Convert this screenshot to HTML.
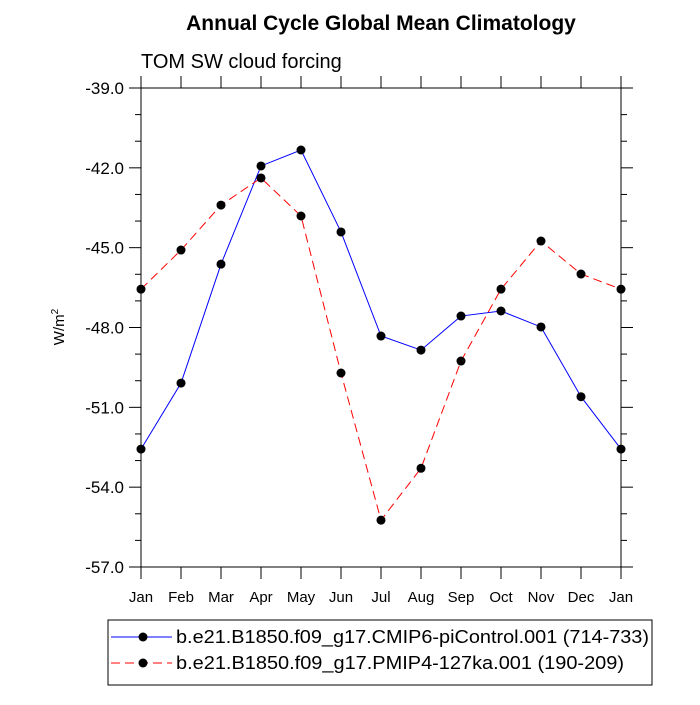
<!DOCTYPE html>
<html><head><meta charset="utf-8"><style>
body{margin:0;background:#fff}
svg text{font-family:"Liberation Sans",sans-serif;fill:#000}
</style></head><body>
<svg id="c" width="700" height="700">
<text x="381" y="30" font-size="21" font-weight="bold" text-anchor="middle">Annual Cycle Global Mean Climatology</text>
<text x="141" y="68" font-size="20">TOM SW cloud forcing</text>
<text transform="translate(64,327) rotate(-90)" font-size="15" text-anchor="middle">W/m<tspan dy="-6" font-size="10">2</tspan></text>
<g id="axes"></g>
<g id="series"></g>
<rect x="108" y="620" width="544" height="65" fill="none" stroke="#000" stroke-width="1"/>
<g>
<line x1="111" y1="637" x2="172" y2="637" stroke="#00f" stroke-width="1"/>
<circle cx="143" cy="637" r="4.5" fill="#000"/>
<text x="176" y="643" font-size="18" textLength="473" lengthAdjust="spacingAndGlyphs">b.e21.B1850.f09_g17.CMIP6-piControl.001 (714-733)</text>
</g>
<g>
<line x1="111" y1="663" x2="172" y2="663" stroke="#f00" stroke-width="1" stroke-dasharray="9,5"/>
<circle cx="143" cy="663" r="4.5" fill="#000"/>
<text x="176" y="669" font-size="18" textLength="448" lengthAdjust="spacingAndGlyphs">b.e21.B1850.f09_g17.PMIP4-127ka.001 (190-209)</text>
</g>
</svg>
<script>
const months=["Jan","Feb","Mar","Apr","May","Jun","Jul","Aug","Sep","Oct","Nov","Dec","Jan"];
const piControl=[-52.57,-50.09,-45.62,-41.93,-41.33,-44.41,-48.32,-48.85,-47.57,-47.38,-47.98,-50.6,-52.57];
const pmip127ka=[-46.56,-45.09,-43.4,-42.38,-43.81,-49.71,-55.24,-53.29,-49.26,-46.56,-44.75,-45.99,-46.56];
const yTicks=[-39,-42,-45,-48,-51,-54,-57];
const NS="http://www.w3.org/2000/svg";
const L=141,R=621,T=88,B=567,ymax=-39,ymin=-57;
const xs=i=>L+(R-L)*i/(months.length-1);
const ys=v=>T+(ymax-v)/(ymax-ymin)*(B-T);
function mk(tag,a,p){const e=document.createElementNS(NS,tag);for(const k in a)e.setAttribute(k,a[k]);p.appendChild(e);return e;}
const ax=document.getElementById('axes');
const frame=mk('rect',{x:L,y:T,width:R-L,height:B-T,fill:'none',stroke:'#000','stroke-width':1},ax);


months.forEach((m,i)=>{const x=xs(i);
mk('line',{x1:x,y1:B,x2:x,y2:B+12,stroke:'#000'},ax);
mk('line',{x1:x,y1:T,x2:x,y2:T-12,stroke:'#000'},ax);
const t=mk('text',{x:x,y:B+35,'font-size':15,'text-anchor':'middle'},ax);t.textContent=m;


});
for(let v=ymax;v>=ymin;v-=1){const y=ys(v);const major=Math.abs(v%3)<1e-9;const len=major?12:6;
mk('line',{x1:L,y1:y,x2:L-len,y2:y,stroke:'#000'},ax);
mk('line',{x1:R,y1:y,x2:R+len,y2:y,stroke:'#000'},ax);}
yTicks.forEach(v=>{const t=mk('text',{x:L-17,y:ys(v)+6,'font-size':17,'text-anchor':'end'},ax);t.textContent=v.toFixed(1);

});
const sg=document.getElementById('series');
function draw(vals,color,dash,name){const g=mk('g',{},sg);


mk('polyline',{points:vals.map((v,i)=>xs(i)+','+ys(v)).join(' '),fill:'none',stroke:color,'stroke-width':1,'stroke-dasharray':dash},g);
vals.forEach((v,i)=>{const c=mk('circle',{cx:xs(i),cy:ys(v),r:4.5,fill:'#000'},g);

});}
draw(piControl,'#00f','none','series-picontrol');
draw(pmip127ka,'#f00','9,5','series-127ka');
</script>
</body></html>
